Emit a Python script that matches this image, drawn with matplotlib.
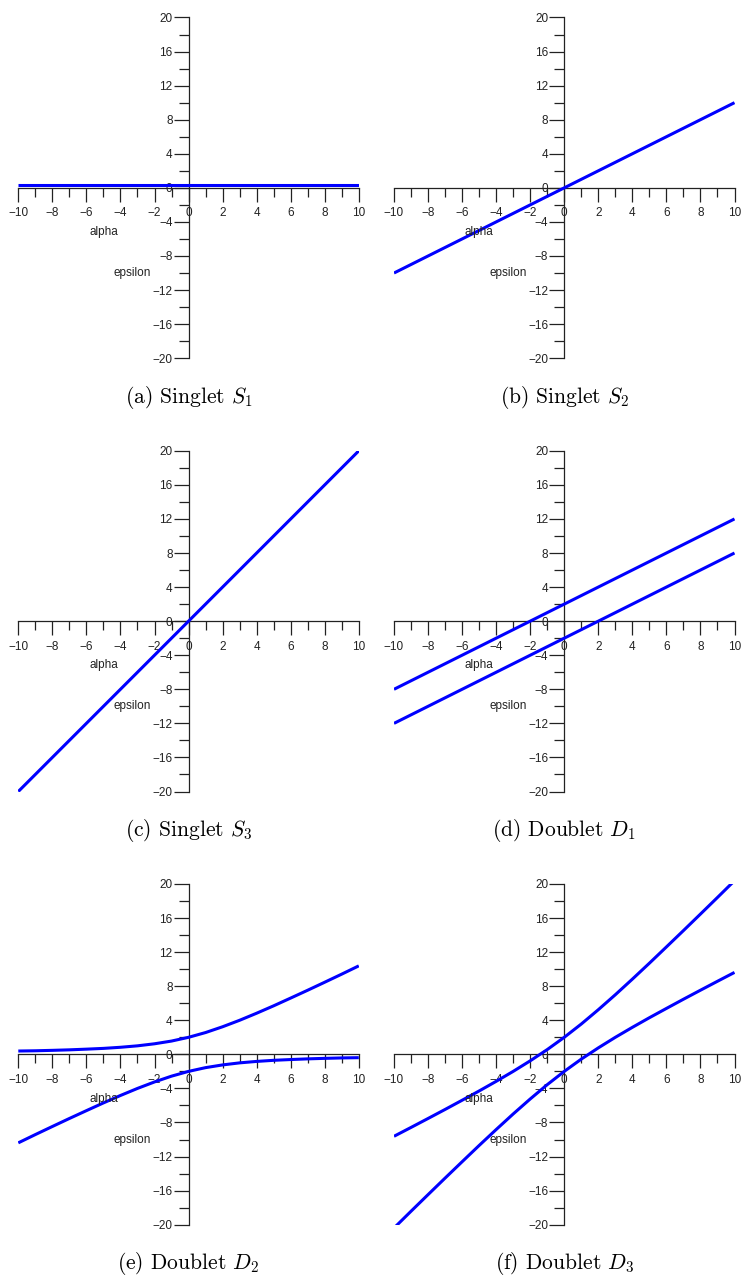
##################################################
## Import useful packages
##################################################
import numpy as np                # numerical
import matplotlib.pyplot as plt   # plt graph

##################################################
## Data
##################################################
# straight lines only need their two end points
x_line = [-10, 10]
s1_y = [0.3, 0.3]
s2_y = [-10, 10]
s3_y = [-20, 20]
d1_upper = [-8, 12]
d1_lower = [-12, 8]

# curved branches, sampled once per unit of alpha
x_curve = [-10, -9, -8, -7, -6, -5, -4, -3, -2, -1, 0,
           1, 2, 3, 4, 5, 6, 7, 8, 9, 10]
d2_upper = [0.39, 0.42, 0.47, 0.53, 0.61, 0.70, 0.83, 1.00, 1.24, 1.56, 2.00,
            2.56, 3.24, 4.00, 4.83, 5.70, 6.61, 7.53, 8.47, 9.42, 10.39]
d2_lower = [-10.39, -9.42, -8.47, -7.53, -6.61, -5.70, -4.83, -4.00, -3.24, -2.56, -2.00,
            -1.56, -1.24, -1.00, -0.83, -0.70, -0.61, -0.53, -0.47, -0.42, -0.39]
d3_upper = [-9.62, -8.58, -7.53, -6.47, -5.39, -4.30, -3.17, -2.00, -0.76, 0.56, 2.00,
            3.56, 5.24, 7.00, 8.83, 10.70, 12.61, 14.53, 16.47, 18.42, 20.39]
d3_lower = [-20.39, -18.42, -16.47, -14.53, -12.61, -10.70, -8.83, -7.00, -5.24, -3.56, -2.00,
            -0.56, 0.76, 2.00, 3.17, 4.30, 5.39, 6.47, 7.53, 8.58, 9.62]

captions = [r"(a) Singlet $S_1$", r"(b) Singlet $S_2$",
            r"(c) Singlet $S_3$", r"(d) Doublet $D_1$",
            r"(e) Doublet $D_2$", r"(f) Doublet $D_3$"]

panels = [
    [(x_line, s1_y)],
    [(x_line, s2_y)],
    [(x_line, s3_y)],
    [(x_line, d1_upper), (x_line, d1_lower)],
    [(x_curve, d2_upper), (x_curve, d2_lower)],
    [(x_curve, d3_upper), (x_curve, d3_lower)],
]

##################################################
## Figure layout (pixels, top-left origin)
##################################################
W, H = 741, 1275
ax_left = [18.3, 394.0]
ax_top = [17.5, 450.8, 884.0]
ax_w = 340.5
ax_h = 340.7
cap_base = [403, 836, 1269]

plt.rcParams['font.family'] = ['Liberation Sans', 'DejaVu Sans']
plt.rcParams['mathtext.fontset'] = 'cm'

fig = plt.figure(figsize=(W / 100, H / 100), dpi=100)

axis_col = '#222222'

for k in range(6):
    row, col = k // 2, k % 2
    left = ax_left[col] / W
    bottom = (H - ax_top[row] - ax_h) / H
    ax = fig.add_axes([left, bottom, ax_w / W, ax_h / H])

    # curves
    for xs, ys in panels[k]:
        ax.plot(xs, ys, color='#0000ff', lw=2.2, solid_capstyle='butt', zorder=3)

    ax.set_xlim(-10, 10)
    ax.set_ylim(-20, 20)

    # axes crossing at the origin
    ax.spines['left'].set_position(('data', 0))
    ax.spines['bottom'].set_position(('data', 0))
    ax.spines['top'].set_visible(False)
    ax.spines['right'].set_visible(False)
    for s in ['left', 'bottom']:
        ax.spines[s].set_color(axis_col)
        ax.spines[s].set_linewidth(0.9)
        ax.spines[s].set_zorder(2)
    ax.patch.set_visible(False)

    ax.set_xticks(np.arange(-10, 11, 2))
    ax.set_xticks(np.arange(-9, 10, 2), minor=True)
    ax.set_yticks(np.arange(-20, 21, 4))
    ax.set_yticks(np.arange(-18, 19, 4), minor=True)
    ax.tick_params(which='both', direction='out', color=axis_col, width=0.9,
                   labelsize=8.5, labelcolor=axis_col)
    ax.tick_params(axis='x', which='major', length=10, pad=4)
    ax.tick_params(axis='x', which='minor', length=6.5)
    ax.tick_params(axis='y', which='major', length=11, pad=0.5)
    ax.tick_params(axis='y', which='minor', length=7)

    # axis names sit in the lower left quadrant
    ax.text(-5.0, -5.2, "alpha", fontsize=8.5, color=axis_col,
            ha='center', va='center', zorder=4)
    ax.text(-3.3, -10.0, "epsilon", fontsize=8.5, color=axis_col,
            ha='center', va='center', zorder=4)

    # caption under each panel
    fig.text((ax_left[col] + ax_w / 2) / W, (H - cap_base[row]) / H, captions[k],
             family='cmr10', math_fontfamily='cm', fontsize=15.5,
             ha='center', va='baseline', color='black')

plt.savefig("out.png", dpi=100)
